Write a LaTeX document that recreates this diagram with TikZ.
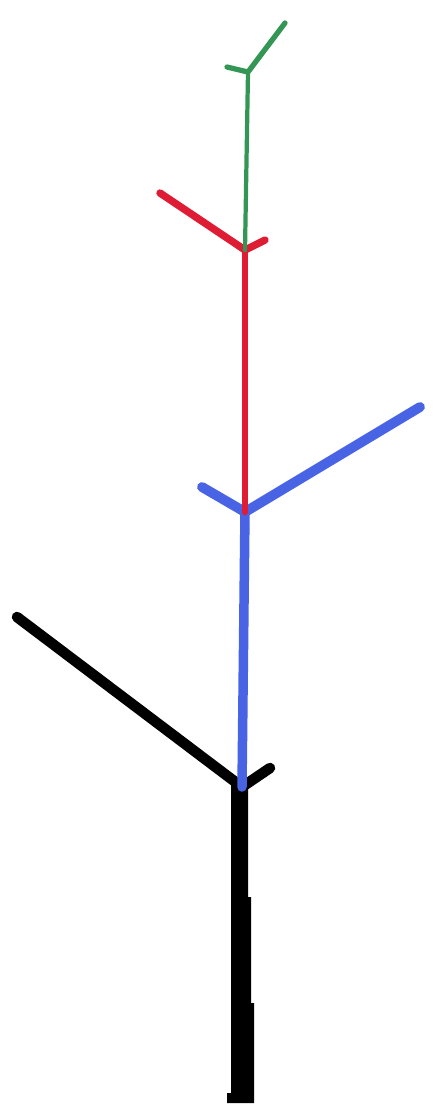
\documentclass[tikz,border=0pt]{standalone}
\definecolor{twiggreen}{RGB}{52,150,84}
\definecolor{twigred}{RGB}{222,28,52}
\definecolor{twigblue}{RGB}{72,100,228}
\tikzset{
  twig/.style={line cap=round,line join=round},
}
\begin{document}
\begin{tikzpicture}[x=0.01cm,y=-0.01cm]
\useasboundingbox (0,0) rectangle (436,1111);
% junctions
\coordinate (j0) at (242,787);
\coordinate (j1) at (245,512);
\coordinate (j2) at (245,250);
\coordinate (j3) at (248,72);
% trunk
\fill[black] (231,785) -- (231,1093) -- (227,1093) -- (227,1103) -- (254,1103) -- (254,1003) -- (251,1003) -- (251,897) -- (248,897) -- (248,785) -- cycle;
\draw[twig,line width=3pt] (17,617) -- (j0) -- (270,768);
% blue
\draw[twig,twigblue,line width=2.7pt] (j0) -- (j1);
\draw[twig,twigblue,line width=2.8pt] (202,487) -- (j1) -- (420,407);
% red
\draw[twig,twigred,line width=1.9pt] (j1) -- (j2);
\draw[twig,twigred,line width=2.1pt] (160,193) -- (j2) -- (265,240);
% green
\draw[twig,twiggreen,line width=1.2pt] (j2) -- (j3);
\draw[twig,twiggreen,line width=1.5pt] (227,67) -- (j3) -- (285,23);
\end{tikzpicture}
\end{document}
